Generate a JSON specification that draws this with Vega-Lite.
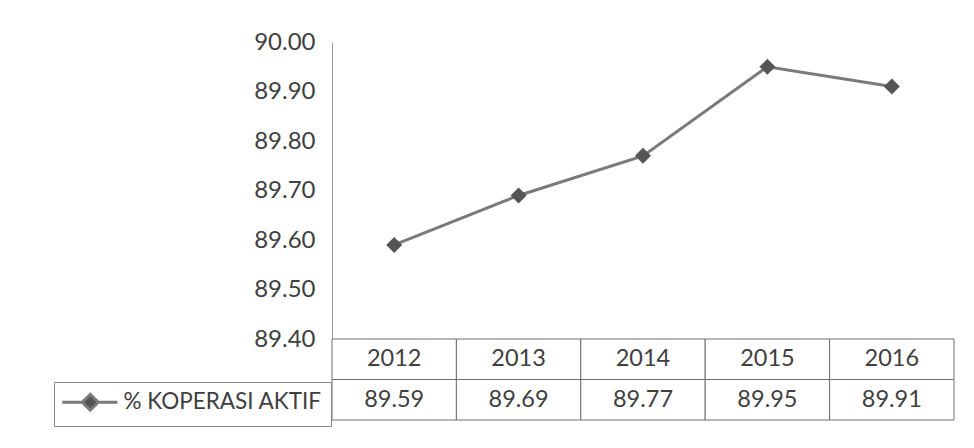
{
  "$schema": "https://vega.github.io/schema/vega-lite/v6.json",
  "autosize": {"type": "pad"},
  "padding": {"left": 53, "top": 30, "right": 0, "bottom": 0},
  "background": "white",
  "config": {"view": {"stroke": null}, "font": "Lato"},
  "bounds": "flush",
  "spacing": 0,
  "data": {"values": [
    {"year": "2012", "value": 89.59},
    {"year": "2013", "value": 89.69},
    {"year": "2014", "value": 89.77},
    {"year": "2015", "value": 89.95},
    {"year": "2016", "value": 89.91}
  ]},
  "resolve": {"scale": {"x": "independent", "y": "independent"}},
  "vconcat": [
    {
      "width": 622,
      "height": 297,
      "encoding": {
        "x": {"field": "year", "type": "ordinal", "axis": null, "scale": {"type": "point", "padding": 0.5}},
        "y": {"field": "value", "type": "quantitative",
          "scale": {"domain": [89.4, 90], "zero": false, "nice": false},
          "axis": {"values": [89.4, 89.5, 89.6, 89.7, 89.8, 89.9, 90.0], "format": ".2f", "ticks": false, "grid": false,
            "domainColor": "#9a9a9a", "domainWidth": 1, "labelFontSize": 24, "labelColor": "#404040",
            "labelPadding": 17, "labelFont": "Lato", "title": null}}
      },
      "layer": [
        {"mark": {"type": "line", "strokeWidth": 3},
         "encoding": {"color": {"datum": "% KOPERASI AKTIF", "type": "nominal", "scale": {"range": ["#7a7a7a"]},
           "legend": {"orient": "none", "legendX": -278, "legendY": 340, "title": null,
             "strokeColor": "#8a8a8a", "padding": 9,
             "symbolType": "M-3.5,0L-1,0M1,0L3.4,0M0,-1L1,0L0,1L-1,0Z",
             "symbolSize": 256, "symbolOffset": 16, "labelOffset": 22,
             "symbolStrokeWidth": 3, "symbolStrokeColor": "#666666", "symbolFillColor": "#555555",
             "labelFontSize": 22.5, "labelColor": "#404040", "labelFont": "Lato", "labelLimit": 400}}}},
        {"mark": {"type": "point", "shape": "diamond", "filled": true, "size": 256, "opacity": 1, "color": "#555555"}}
      ]
    },
    {
      "width": 622,
      "height": 81,
      "transform": [{"calculate": "format(datum.value, '.2f')", "as": "label"}],
      "encoding": {
        "x": {"field": "year", "type": "ordinal", "axis": null, "scale": {"type": "band", "paddingInner": 0, "paddingOuter": 0}}
      },
      "layer": [
        {"mark": {"type": "rect", "fill": "white", "stroke": "#6f6f6f", "strokeWidth": 1},
         "encoding": {"y": {"datum": "header", "type": "nominal", "scale": {"type": "band", "domain": ["header", "value"], "paddingInner": 0, "paddingOuter": 0}, "axis": null}}},
        {"mark": {"type": "rect", "fill": "white", "stroke": "#6f6f6f", "strokeWidth": 1},
         "encoding": {"y": {"datum": "value", "type": "nominal"}}},
        {"mark": {"type": "text", "fontSize": 23.5, "color": "#404040", "font": "Lato"},
         "encoding": {"y": {"datum": "header", "type": "nominal"}, "text": {"field": "year"}}},
        {"mark": {"type": "text", "fontSize": 23.5, "color": "#404040", "font": "Lato"},
         "encoding": {"y": {"datum": "value", "type": "nominal"}, "text": {"field": "label"}}}
      ]
    }
  ]
}
